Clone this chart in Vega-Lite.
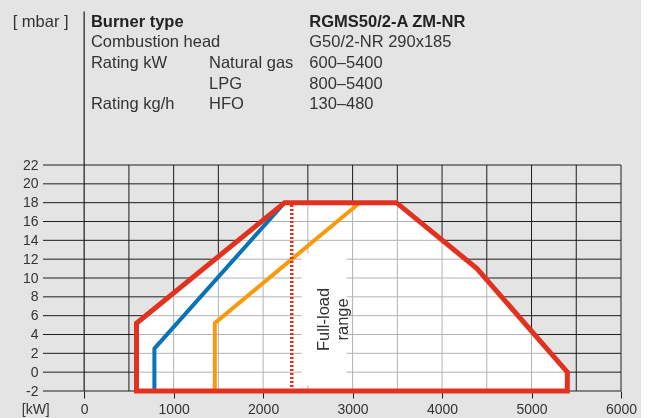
{
  "$schema": "https://vega.github.io/schema/vega-lite/v6.json",
  "autosize": {"type": "none"},
  "width": 578,
  "height": 226,
  "padding": {"left": 43, "top": 165, "right": 20, "bottom": 27},
  "background": "#e4e4e4",
  "config": {
    "view": {"stroke": null},
    "font": "Liberation Sans",
    "text": {"font": "Liberation Sans", "color": "#333333"},
    "axisX": {"title": null, "grid": false, "domain": false, "labelFlush": false, "labelOverlap": false,
      "tickSize": 7, "tickColor": "#1e1e1e", "labelFontSize": 14, "labelColor": "#333333", "labelPadding": 4, "labelFont": "Liberation Sans"},
    "axisY": {"title": null, "grid": false, "domain": false, "labelFlush": false, "labelOverlap": false,
      "ticks": false, "labelFontSize": 14, "labelColor": "#333333", "labelPadding": 5, "labelFont": "Liberation Sans"}
  },
  "datasets": {
    "gridx": [
      {"kW": 500}, {"kW": 1000}, {"kW": 1500}, {"kW": 2000}, {"kW": 2500}, {"kW": 3000},
      {"kW": 3500}, {"kW": 4000}, {"kW": 4500}, {"kW": 5000}, {"kW": 5500}, {"kW": 6000}
    ],
    "gridy": [
      {"mbar": -2}, {"mbar": 0}, {"mbar": 2}, {"mbar": 4}, {"mbar": 6}, {"mbar": 8}, {"mbar": 10},
      {"mbar": 12}, {"mbar": 14}, {"mbar": 16}, {"mbar": 18}, {"mbar": 20}, {"mbar": 22}
    ],
    "envelope": [
      {"order": 1, "kW": 585, "mbar": -2},
      {"order": 2, "kW": 585, "mbar": 5.2},
      {"order": 3, "kW": 2240, "mbar": 18},
      {"order": 4, "kW": 3490, "mbar": 18},
      {"order": 5, "kW": 4390, "mbar": 11},
      {"order": 6, "kW": 5400, "mbar": 0},
      {"order": 7, "kW": 5400, "mbar": -2},
      {"order": 8, "kW": 585, "mbar": -2}
    ],
    "gas": [
      {"fuel": "Natural gas", "order": 1, "kW": 785, "mbar": -2},
      {"fuel": "Natural gas", "order": 2, "kW": 785, "mbar": 2.5},
      {"fuel": "Natural gas", "order": 3, "kW": 2240, "mbar": 18},
      {"fuel": "LPG", "order": 1, "kW": 1460, "mbar": -2},
      {"fuel": "LPG", "order": 2, "kW": 1460, "mbar": 5.2},
      {"fuel": "LPG", "order": 3, "kW": 3080, "mbar": 18}
    ],
    "fullload": [{"kW": 2320, "low": -2, "high": 17.8}],
    "labelbox": [{"kW": 2432, "kW2": 2935, "low": -1.4, "high": 12.6}],
    "axisline": [{"kW": 0, "low": -2, "high": 38.3}],
    "headerBold": [
      {"label": "Burner type", "kW": 76, "mbar": 36.66},
      {"label": "RGMS50/2-A ZM-NR", "kW": 2516, "mbar": 36.66}
    ],
    "header": [
      {"label": "[ mbar ]", "kW": -799, "mbar": 36.66},
      {"label": "Combustion head", "kW": 76, "mbar": 34.48},
      {"label": "G50/2-NR 290x185", "kW": 2516, "mbar": 34.48},
      {"label": "Rating kW", "kW": 76, "mbar": 32.30},
      {"label": "Natural gas", "kW": 1395, "mbar": 32.30},
      {"label": "600–5400", "kW": 2516, "mbar": 32.30},
      {"label": "LPG", "kW": 1395, "mbar": 30.12},
      {"label": "800–5400", "kW": 2516, "mbar": 30.12},
      {"label": "Rating kg/h", "kW": 76, "mbar": 27.95},
      {"label": "HFO", "kW": 1395, "mbar": 27.95},
      {"label": "130–480", "kW": 2516, "mbar": 27.95}
    ],
    "unit": [{"label": "[kW]", "kW": -541, "mbar": -4.44}],
    "rangeText": [{"label": "Full-load\nrange", "kW": 2680, "mbar": 5.6}]
  },
  "layer": [
    {
      "data": {"name": "gridx"},
      "mark": {"type": "rule", "color": "#1e1e1e", "strokeWidth": 1},
      "encoding": {
        "x": {"field": "kW", "type": "quantitative", "title": null, "scale": {"domain": [-460, 6000], "nice": false, "zero": false},
          "axis": {"values": [0, 1000, 2000, 3000, 4000, 5000, 6000], "labelExpr": "'' + datum.value", "title": null, "labelOverlap": false}},
        "y": {"datum": -2, "type": "quantitative", "title": null, "scale": {"domain": [-2, 22], "nice": false, "zero": false},
          "axis": {"values": [-2, 0, 2, 4, 6, 8, 10, 12, 14, 16, 18, 20, 22], "tickCount": 13, "labelExpr": "'' + datum.value", "title": null, "labelOverlap": false, "labelBound": false, "labelSeparation": 0}},
        "y2": {"datum": 22}
      }
    },
    {
      "data": {"name": "gridy"},
      "mark": {"type": "rule", "color": "#1e1e1e", "strokeWidth": 1},
      "encoding": {
        "y": {"field": "mbar", "type": "quantitative", "title": null, "scale": {"domain": [-2, 22], "nice": false, "zero": false}},
        "x": {"datum": -460, "type": "quantitative", "title": null, "scale": {"domain": [-460, 6000], "nice": false, "zero": false}},
        "x2": {"datum": 6000}
      }
    },
    {
      "data": {"name": "axisline"},
      "mark": {"type": "rule", "color": "#1e1e1e", "strokeWidth": 1.2},
      "encoding": {
        "x": {"field": "kW", "type": "quantitative", "title": null, "scale": {"domain": [-460, 6000], "nice": false, "zero": false}},
        "y": {"field": "low", "type": "quantitative", "title": null, "scale": {"domain": [-2, 22], "nice": false, "zero": false}},
        "y2": {"field": "high"}
      }
    },
    {
      "data": {"name": "envelope"},
      "mark": {"type": "area", "color": "#ffffff", "opacity": 1, "interpolate": "linear"},
      "transform": [{"filter": "datum.order >= 2 && datum.order <= 6"}],
      "encoding": {
        "x": {"field": "kW", "type": "quantitative", "title": null, "scale": {"domain": [-460, 6000], "nice": false, "zero": false}},
        "y": {"field": "mbar", "type": "quantitative", "title": null, "scale": {"domain": [-2, 22], "nice": false, "zero": false}},
        "y2": {"datum": -2}
      }
    },
    {
      "data": {"name": "gridx"},
      "mark": {"type": "rule", "color": "#b2b2b2", "strokeWidth": 1, "blend": "darken"},
      "encoding": {
        "x": {"field": "kW", "type": "quantitative", "title": null, "scale": {"domain": [-460, 6000], "nice": false, "zero": false}},
        "y": {"datum": -2, "type": "quantitative", "title": null, "scale": {"domain": [-2, 22], "nice": false, "zero": false}},
        "y2": {"datum": 22}
      }
    },
    {
      "data": {"name": "gridy"},
      "mark": {"type": "rule", "color": "#b2b2b2", "strokeWidth": 1, "blend": "darken"},
      "encoding": {
        "y": {"field": "mbar", "type": "quantitative", "title": null, "scale": {"domain": [-2, 22], "nice": false, "zero": false}},
        "x": {"datum": -460, "type": "quantitative", "title": null, "scale": {"domain": [-460, 6000], "nice": false, "zero": false}},
        "x2": {"datum": 6000}
      }
    },
    {
      "data": {"name": "labelbox"},
      "mark": {"type": "rect", "color": "#ffffff"},
      "encoding": {
        "x": {"field": "kW", "type": "quantitative", "title": null, "scale": {"domain": [-460, 6000], "nice": false, "zero": false}},
        "x2": {"field": "kW2"},
        "y": {"field": "low", "type": "quantitative", "title": null, "scale": {"domain": [-2, 22], "nice": false, "zero": false}},
        "y2": {"field": "high"}
      }
    },
    {
      "data": {"name": "gas"},
      "transform": [{"filter": "datum.fuel === 'Natural gas'"}],
      "mark": {"type": "line", "color": "#0a72b6", "strokeWidth": 4, "strokeJoin": "miter"},
      "encoding": {
        "x": {"field": "kW", "type": "quantitative", "title": null, "scale": {"domain": [-460, 6000], "nice": false, "zero": false}},
        "y": {"field": "mbar", "type": "quantitative", "title": null, "scale": {"domain": [-2, 22], "nice": false, "zero": false}},
        "order": {"field": "order"}
      }
    },
    {
      "data": {"name": "gas"},
      "transform": [{"filter": "datum.fuel === 'LPG'"}],
      "mark": {"type": "line", "color": "#f89a0c", "strokeWidth": 4, "strokeJoin": "miter"},
      "encoding": {
        "x": {"field": "kW", "type": "quantitative", "title": null, "scale": {"domain": [-460, 6000], "nice": false, "zero": false}},
        "y": {"field": "mbar", "type": "quantitative", "title": null, "scale": {"domain": [-2, 22], "nice": false, "zero": false}},
        "order": {"field": "order"}
      }
    },
    {
      "data": {"name": "fullload"},
      "mark": {"type": "rule", "color": "#e2321f", "strokeWidth": 3.5, "strokeDash": [2, 2]},
      "encoding": {
        "x": {"field": "kW", "type": "quantitative", "title": null, "scale": {"domain": [-460, 6000], "nice": false, "zero": false}},
        "y": {"field": "low", "type": "quantitative", "title": null, "scale": {"domain": [-2, 22], "nice": false, "zero": false}},
        "y2": {"field": "high"}
      }
    },
    {
      "data": {"name": "envelope"},
      "mark": {"type": "line", "color": "#e2321f", "strokeWidth": 5, "strokeJoin": "miter", "strokeCap": "square"},
      "encoding": {
        "x": {"field": "kW", "type": "quantitative", "title": null, "scale": {"domain": [-460, 6000], "nice": false, "zero": false}},
        "y": {"field": "mbar", "type": "quantitative", "title": null, "scale": {"domain": [-2, 22], "nice": false, "zero": false}},
        "order": {"field": "order"}
      }
    },
    {
      "data": {"name": "rangeText"},
      "mark": {"type": "text", "angle": 270, "align": "center", "baseline": "middle", "fontSize": 16.5, "lineHeight": 19, "lineBreak": "\n", "color": "#333333"},
      "encoding": {
        "x": {"field": "kW", "type": "quantitative", "title": null, "scale": {"domain": [-460, 6000], "nice": false, "zero": false}},
        "y": {"field": "mbar", "type": "quantitative", "title": null, "scale": {"domain": [-2, 22], "nice": false, "zero": false}},
        "text": {"field": "label"}
      }
    },
    {
      "data": {"name": "headerBold"},
      "mark": {"type": "text", "align": "left", "baseline": "alphabetic", "fontSize": 16.5, "fontWeight": "bold", "color": "#222222"},
      "encoding": {
        "x": {"field": "kW", "type": "quantitative", "title": null, "scale": {"domain": [-460, 6000], "nice": false, "zero": false}},
        "y": {"field": "mbar", "type": "quantitative", "title": null, "scale": {"domain": [-2, 22], "nice": false, "zero": false}},
        "text": {"field": "label"}
      }
    },
    {
      "data": {"name": "header"},
      "mark": {"type": "text", "align": "left", "baseline": "alphabetic", "fontSize": 16.5, "color": "#333333"},
      "encoding": {
        "x": {"field": "kW", "type": "quantitative", "title": null, "scale": {"domain": [-460, 6000], "nice": false, "zero": false}},
        "y": {"field": "mbar", "type": "quantitative", "title": null, "scale": {"domain": [-2, 22], "nice": false, "zero": false}},
        "text": {"field": "label"}
      }
    },
    {
      "data": {"name": "unit"},
      "mark": {"type": "text", "align": "center", "baseline": "alphabetic", "fontSize": 14, "color": "#333333"},
      "encoding": {
        "x": {"field": "kW", "type": "quantitative", "title": null, "scale": {"domain": [-460, 6000], "nice": false, "zero": false}},
        "y": {"field": "mbar", "type": "quantitative", "title": null, "scale": {"domain": [-2, 22], "nice": false, "zero": false}},
        "text": {"field": "label"}
      }
    }
  ]
}
